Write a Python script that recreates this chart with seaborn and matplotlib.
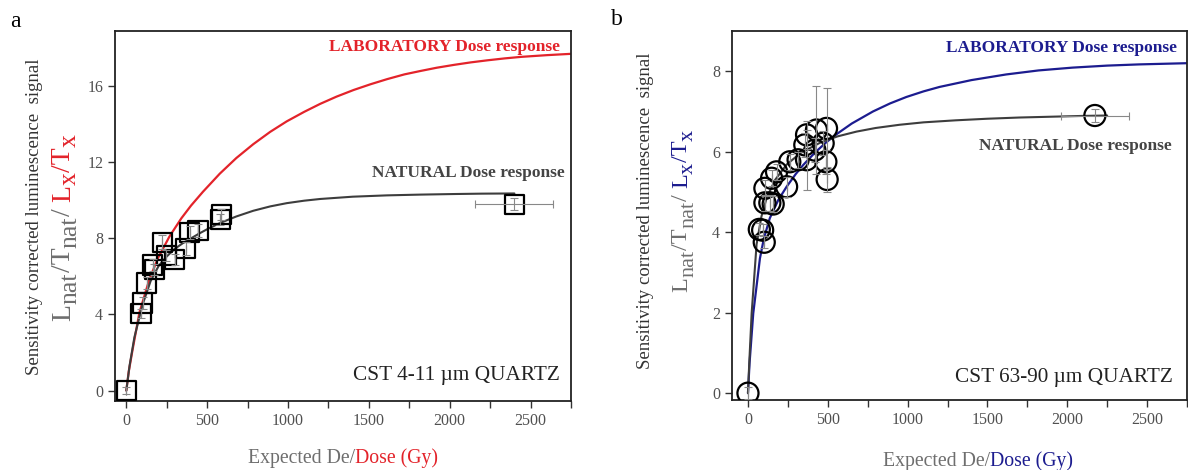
import numpy as np
import matplotlib
matplotlib.use('Agg')
import matplotlib.pyplot as plt
from matplotlib.ticker import MultipleLocator
import seaborn as sns

# ---- panel a: CST 4-11 um quartz (squares) ----
a_dose = [0, 91, 101, 126, 163, 174, 222, 246, 298, 366, 391, 443, 580, 588, 2398]
a_sig = [0, 4.05, 4.6, 5.65, 6.6, 6.35, 7.8, 7.1, 6.9, 7.45, 8.3, 8.4, 9.0, 9.25, 9.8]
a_sig_err = [0.2, 0.25, 0.3, 0.3, 0.3, 0.3, 0.35, 0.3, 0.3, 0.35, 0.35, 0.35, 0.3, 0.3, 0.3]
a_dose_err = [0, 0, 0, 0, 0, 0, 0, 0, 0, 0, 0, 0, 0, 0, 240]

a_lab_x = [0, 15, 39, 81, 143, 195, 267, 340, 400, 474, 578, 680, 785, 890, 992, 1100, 1199, 1300,
           1406, 1510, 1613, 1720, 1820, 1920, 2027, 2130, 2234, 2340, 2441, 2600, 2750]
a_lab_y = [0, 1.0, 2.16, 4.1, 5.85, 6.95, 8.1, 9.05, 9.72, 10.45, 11.4, 12.22, 12.95, 13.6, 14.15, 14.65,
           15.07, 15.45, 15.8, 16.1, 16.37, 16.62, 16.8, 16.97, 17.12, 17.25, 17.36, 17.46, 17.54, 17.63, 17.7]

a_nat_x = [0, 20, 50, 100, 150, 200, 250, 300, 350, 400, 450, 500, 578, 680, 785, 890, 992, 1100,
           1199, 1400, 1613, 1820, 2027, 2200, 2400]
a_nat_y = [0, 1.3, 2.8, 4.5, 5.75, 6.55, 7.05, 7.45, 7.75, 8.0, 8.25, 8.48, 8.8, 9.15, 9.45, 9.68,
           9.85, 9.98, 10.07, 10.19, 10.26, 10.3, 10.33, 10.35, 10.36]

# ---- panel b: CST 63-90 um quartz (circles) ----
b_dose = [0, 71, 92, 102, 106, 137, 158, 106, 148, 179, 242, 262, 314, 367, 356, 367, 429, 419, 471, 492, 488, 496, 2173]
b_sig = [0, 4.07, 4.05, 3.75, 4.73, 4.73, 4.7, 5.09, 5.34, 5.5, 5.13, 5.75, 5.8, 5.8, 6.17, 6.42, 6.54, 6.04, 6.21, 6.58, 5.75, 5.31, 6.9]
b_sig_err = [0.15, 0.15, 0.15, 0.15, 0.2, 0.2, 0.2, 0.2, 0.2, 0.2, 0.25, 0.2, 0.2, 0.75, 0.3, 0.35, 1.1, 0.3, 0.3, 1.0, 0.3, 0.3, 0.15]
b_dose_err = [0] * 22 + [215]

b_lab_x = [0, 10, 33, 75, 100, 137, 190, 242, 300, 346, 420, 492, 560, 650, 783, 890, 992, 1100, 1200,
           1400, 1617, 1820, 2033, 2250, 2450, 2750]
b_lab_y = [0, 0.75, 1.98, 3.35, 3.85, 4.35, 4.8, 5.13, 5.45, 5.67, 5.98, 6.24, 6.45, 6.7, 7.0, 7.2,
           7.36, 7.5, 7.61, 7.78, 7.92, 8.02, 8.09, 8.14, 8.17, 8.2]

b_nat_x = [0, 8, 23, 54, 85, 117, 170, 242, 330, 450, 560, 680, 800, 950, 1100, 1300, 1500, 1700,
           1900, 2100, 2250]
b_nat_y = [0, 0.74, 1.98, 3.7, 4.4, 4.85, 5.3, 5.68, 5.97, 6.22, 6.38, 6.5, 6.59, 6.67, 6.73, 6.78,
           6.82, 6.85, 6.87, 6.89, 6.9]

RED = '#e3232a'
BLUE = '#1c1c8f'
DARK = '#3d3d3d'
GRAY = '#6e6e6e'

W, H = 1188, 470
sns.set_theme(style='ticks')
plt.rcParams['font.family'] = ['Liberation Serif', 'DejaVu Serif']

fig = plt.figure(figsize=(W / 100, H / 100), dpi=100)
ax_a = fig.add_axes([115 / W, 1 - 401 / H, 456 / W, 370 / H])
ax_b = fig.add_axes([732 / W, 1 - 400 / H, 455 / W, 369 / H])


def draw_panel(ax, dose, sig, dose_err, sig_err, lab_x, lab_y, nat_x, nat_y, marker, msize, lab_color):
    sns.lineplot(x=lab_x, y=lab_y, color=lab_color, lw=1.6, ax=ax, zorder=2)
    sns.lineplot(x=nat_x, y=nat_y, color=DARK, lw=1.5, ax=ax, zorder=2)
    sns.scatterplot(x=dose, y=sig, marker=marker, s=msize, facecolors='none',
                    edgecolor='black', linewidth=1.6, ax=ax, zorder=3)
    ax.errorbar(dose, sig, yerr=sig_err, xerr=dose_err, fmt='none', ecolor='#888888',
                elinewidth=0.8, capsize=3, capthick=0.8, zorder=4)
    ax.set_xlim(-70, 2750)
    ax.xaxis.set_major_locator(MultipleLocator(500))
    ax.xaxis.set_minor_locator(MultipleLocator(250))
    for s in ax.spines.values():
        s.set_color('#222222')
        s.set_linewidth(1.3)
    ax.tick_params(which='both', direction='out', length=5, width=1.0, color='#333333',
                   labelsize=11.5, labelcolor='#505050')
    ax.set_xlabel('')
    ax.set_ylabel('')


draw_panel(ax_a, a_dose, a_sig, a_dose_err, a_sig_err, a_lab_x, a_lab_y, a_nat_x, a_nat_y, 's', 190, RED)
ax_a.set_ylim(-0.55, 18.9)
ax_a.yaxis.set_major_locator(MultipleLocator(4))

draw_panel(ax_b, b_dose, b_sig, b_dose_err, b_sig_err, b_lab_x, b_lab_y, b_nat_x, b_nat_y, 'o', 230, BLUE)
ax_b.set_xlim(-100, 2750)
ax_b.set_ylim(-0.17, 9.0)
ax_b.yaxis.set_major_locator(MultipleLocator(2))

# annotations inside the panels
ax_a.text(0.976, 0.957, 'LABORATORY Dose response', color=RED, fontsize=12.5, fontweight='bold',
          ha='right', va='center', transform=ax_a.transAxes)
ax_a.text(0.987, 0.616, 'NATURAL Dose response', color='#444444', fontsize=12.5, fontweight='bold',
          ha='right', va='center', transform=ax_a.transAxes)
ax_a.text(0.976, 0.068, 'CST 4-11 µm QUARTZ', color='#222222', fontsize=15.3,
          ha='right', va='center', transform=ax_a.transAxes)
ax_b.text(0.978, 0.954, 'LABORATORY Dose response', color=BLUE, fontsize=12.5, fontweight='bold',
          ha='right', va='center', transform=ax_b.transAxes)
ax_b.text(0.967, 0.688, 'NATURAL Dose response', color='#444444', fontsize=12.5, fontweight='bold',
          ha='right', va='center', transform=ax_b.transAxes)
ax_b.text(0.969, 0.06, 'CST 63-90 µm QUARTZ', color='#222222', fontsize=15.3,
          ha='right', va='center', transform=ax_b.transAxes)

fig.text(10 / W, 1 - 27 / H, 'a', fontsize=17, color='black', va='baseline')
fig.text(611 / W, 1 - 25 / H, 'b', fontsize=17, color='black', va='baseline')

renderer = fig.canvas.get_renderer()


def pieces(x, y, parts, rotation=0):
    # consecutive text pieces (text, colour, size, baseline shift in px); x/y in pixels from top-left
    ypix = H - y
    for s, c, size, shift in parts:
        if rotation:
            t = fig.text((x + shift) / W, ypix / H, s, color=c, fontsize=size, rotation=90,
                         rotation_mode='anchor', ha='left', va='baseline')
            ypix += t.get_window_extent(renderer).height
        else:
            t = fig.text(x / W, (ypix - shift) / H, s, color=c, fontsize=size, ha='left', va='baseline')
            x += t.get_window_extent(renderer).width


for xl, yl in [(35, 217), (645, 211)]:
    fig.text(xl / W, 1 - yl / H, 'Sensitivity corrected luminescence  signal', color='#333333',
             fontsize=13.5, rotation=90, ha='center', va='center')


def ratio_parts(col, big, sub, sh):
    return [('L', GRAY, big, 0), ('nat', GRAY, sub, sh), ('/T', GRAY, big, 0), ('nat', GRAY, sub, sh),
            ('/ ', GRAY, big, 0), ('L', col, big, 0), ('x', col, sub, sh), ('/T', col, big, 0),
            ('x', col, sub, sh)]


pieces(70, 321, ratio_parts(RED, 20, 18.5, 6), rotation=90)
pieces(687, 292, ratio_parts(BLUE, 17.5, 16, 6), rotation=90)

pieces(248, 463, [('Expected De/', GRAY, 14.2, 0), ('Dose (Gy)', RED, 14.2, 0)])
pieces(883, 466, [('Expected De/', GRAY, 14.2, 0), ('Dose (Gy)', BLUE, 14.2, 0)])

fig.savefig('out.png', dpi=100)
